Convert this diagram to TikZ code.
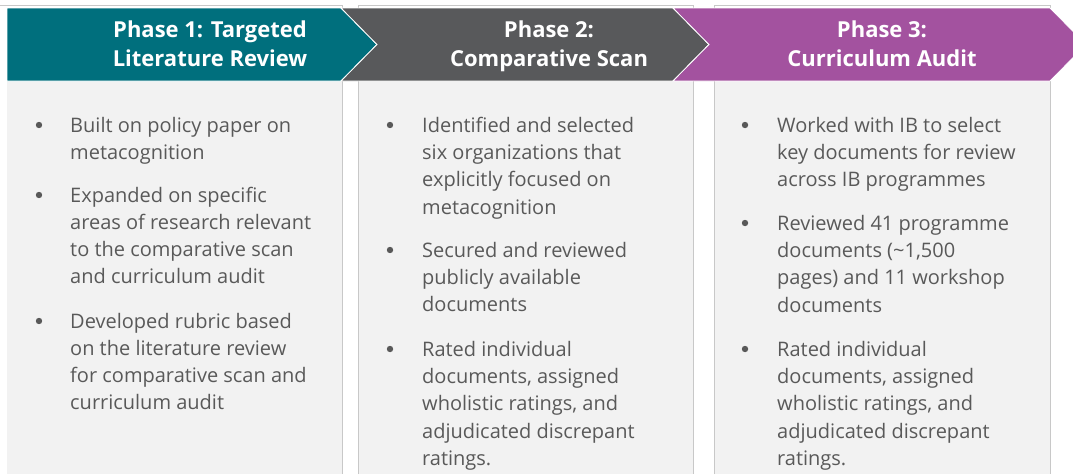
\documentclass[tikz,border=0pt]{standalone}
\usepackage{fontspec}
\setmainfont{Open Sans}
\definecolor{cteal}{RGB}{0,111,125}
\definecolor{cgray}{RGB}{88,89,91}
\definecolor{cpurple}{RGB}{163,82,159}
\definecolor{cbody}{RGB}{242,242,242}
\definecolor{ctext}{RGB}{89,89,89}
\definecolor{cline}{RGB}{200,200,200}
\tikzset{
  chev/.style={draw=white, line width=0.8pt},
  panel/.style={fill=cbody},
  frame/.style={draw=cline, line width=0.8pt},
  head/.style={anchor=base, inner sep=0pt, text=white, font=\bfseries\fontsize{22}{29}\selectfont},
  item/.style={anchor=base west, inner sep=0pt, text=ctext, font=\fontsize{20}{27.4}\selectfont},
  itemA/.style={item, font=\fontsize{20}{27}\selectfont},
  bul/.style={circle, fill=ctext, inner sep=0pt, minimum size=6.4pt},
}
\newcommand{\lines}[1]{\parbox[t]{300pt}{\raggedright #1}}
\begin{document}
\begin{tikzpicture}[x=1pt,y=-1pt]
\useasboundingbox (0,0) rectangle (1073,474);
% frames
\draw[frame] (0,5) -- (342,5) -- (342,474);
\draw[frame] (358,474) -- (358,5) -- (693,5) -- (693,474);
\draw[frame] (714,474) -- (714,5) -- (1050,5) -- (1050,474);
% body panels
\fill[panel] (7,82) rectangle (341.5,474);
\fill[panel] (358.5,82) rectangle (692.5,474);
\fill[panel] (714.5,82) rectangle (1049.5,474);
% chevrons
\filldraw[chev, fill=cteal] (7,8) -- (341,8) -- (377,44.5) -- (341,81) -- (7,81) -- cycle;
\filldraw[chev, fill=cgray] (341,8) -- (673,8) -- (709,44.5) -- (673,81) -- (341,81) -- (377,44.5) -- cycle;
\filldraw[chev, fill=cpurple] (673,8) -- (1050,8) -- (1086,44.5) -- (1050,81) -- (673,81) -- (709,44.5) -- cycle;
% headers
\node[head] (h1) at (210,37) {\parbox[t]{320pt}{\centering Phase 1: Targeted\\Literature Review}};
\node[head] (h2) at (549,37) {\parbox[t]{320pt}{\centering Phase 2:\\Comparative Scan}};
\node[head] (h3) at (882,37) {\parbox[t]{320pt}{\centering Phase 3:\\Curriculum Audit}};
% panel 1
\node[bul] (b11) at (39,125) {};
\node[itemA] (t11) at (70,132) {\lines{Built on policy paper on\\metacognition}};
\node[bul] (b12) at (39,195) {};
\node[itemA] (t12) at (70,202) {\lines{Expanded on specific\\areas of research relevant\\to the comparative scan\\and curriculum audit}};
\node[bul] (b13) at (39,321) {};
\node[itemA] (t13) at (70,328) {\lines{Developed rubric based\\on the literature review\\for comparative scan and\\curriculum audit}};
% panel 2
\node[bul] (b21) at (390,125) {};
\node[item] (t21) at (422,132) {\lines{Identified and selected\\six organizations that\\explicitly focused on\\metacognition}};
\node[bul] (b22) at (390,250) {};
\node[item] (t22) at (422,257) {\lines{Secured and reviewed\\publicly available\\documents}};
\node[bul] (b23) at (390,349) {};
\node[item] (t23) at (422,356) {\lines{Rated individual\\documents, assigned\\wholistic ratings, and\\adjudicated discrepant\\ratings.}};
% panel 3
\node[bul] (b31) at (745,125) {};
\node[item] (t31) at (777,132) {\lines{Worked with IB to select\\key documents for review\\across IB programmes}};
\node[bul] (b32) at (745,223) {};
\node[item] (t32) at (777,230) {\lines{Reviewed 41 programme\\documents (\textasciitilde1,500\\pages) and 11 workshop\\documents}};
\node[bul] (b33) at (745,349) {};
\node[item] (t33) at (777,356) {\lines{Rated individual\\documents, assigned\\wholistic ratings, and\\adjudicated discrepant\\ratings.}};
\end{tikzpicture}
\end{document}
